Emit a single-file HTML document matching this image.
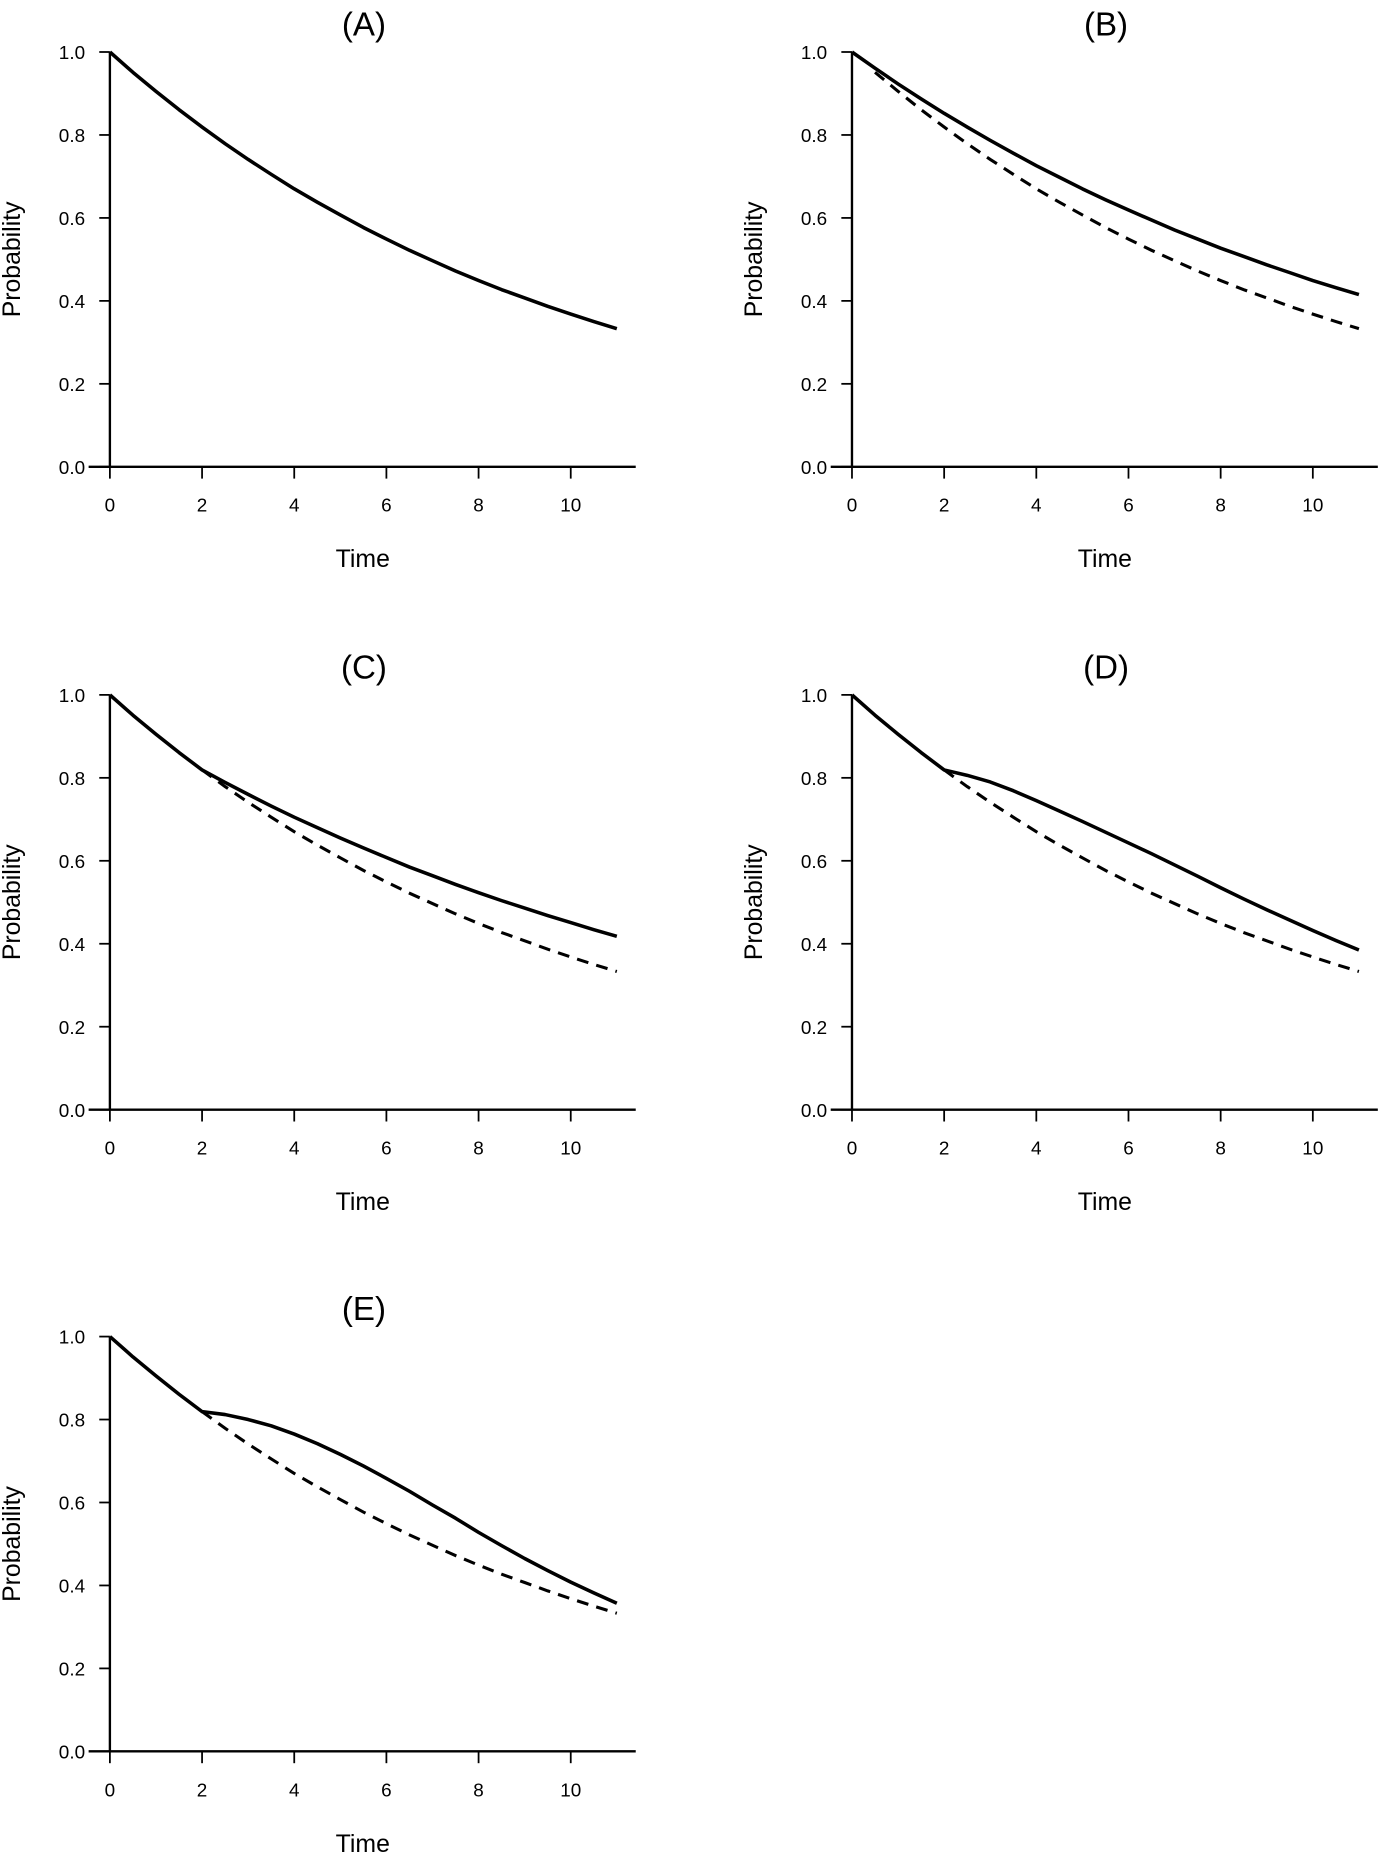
<!DOCTYPE html>
<html><head><meta charset="utf-8"><style>
html,body{margin:0;padding:0;background:#fff}
svg{display:block}
text{font-family:"Liberation Sans",Arial,sans-serif;fill:#000}
</style></head><body>
<svg id="fig" width="1379" height="1853" viewBox="0 0 1167 1568" preserveAspectRatio="none" xmlns="http://www.w3.org/2000/svg"></svg>
<script>
const times = [0,0.5,1,1.5,2,2.5,3,3.5,4,4.5,5,5.5,6,6.5,7,7.5,8,8.5,9,9.5,10,10.5,11];
const baseline = [1,.951,.905,.861,.819,.779,.741,.705,.670,.638,.607,.577,.549,.522,.497,.472,.449,.427,.407,.387,.368,.350,.333];
const seriesB = [1,.961,.923,.887,.852,.819,.787,.756,.726,.698,.670,.644,.619,.595,.571,.549,.527,.507,.487,.468,.449,.432,.415];
const seriesC = [1,.951,.905,.861,.819,.789,.760,.732,.705,.680,.655,.631,.608,.585,.564,.543,.523,.504,.486,.468,.451,.434,.418];
const seriesD = [1,.951,.905,.861,.819,.806,.790,.769,.745,.720,.695,.669,.643,.617,.590,.563,.535,.508,.482,.457,.432,.408,.385];
const seriesE = [1,.951,.905,.861,.819,.812,.800,.785,.765,.742,.716,.688,.658,.627,.594,.562,.528,.496,.465,.436,.408,.382,.357];
const xTicks = [0,2,4,6,8,10];
const yTicks = [0,0.2,0.4,0.6,0.8,1.0];
const panelTitles = ["(A)","(B)","(C)","(D)","(E)"];
const panelSolid = [baseline, seriesB, seriesC, seriesD, seriesE];
const dashStart = [null, 0.5, 2, 2, 2];

const NS="http://www.w3.org/2000/svg";
const svg=document.getElementById('fig');
function mk(tag,attrs,parent){const e=document.createElementNS(NS,tag);for(const k in attrs)e.setAttribute(k,attrs[k]);(parent||svg).appendChild(e);return e;}

const origins=[[0,0],[628,0],[0,544],[628,544],[0,1087]];
panelTitles.forEach((title,i)=>{
  const [ox,oy]=origins[i];
  const g=mk('g',{transform:`translate(${ox},${oy})`});
  
  
  const sx=t=>93+t*39;
  const sy=v=>395-v*351;
  const t1=mk('text',{x:308,y:30,'font-size':28,'text-anchor':'middle'},g);t1.textContent=title;
  
  
  const ya=mk('line',{x1:93,y1:sy(1),x2:93,y2:sy(0),stroke:'#000','stroke-width':2},g);
  
  
  const xa=mk('line',{x1:75,y1:sy(0),x2:538,y2:sy(0),stroke:'#000','stroke-width':2},g);
  
  
  yTicks.forEach(v=>{
    mk('line',{x1:84,y1:sy(v),x2:93,y2:sy(v),stroke:'#000','stroke-width':1.5},g);
    const t=mk('text',{x:72,y:sy(v)+6,'font-size':16,'text-anchor':'end'},g);t.textContent=v.toFixed(1);
    
    
  });
  xTicks.forEach(v=>{
    mk('line',{x1:sx(v),y1:sy(0),x2:sx(v),y2:sy(0)+10,stroke:'#000','stroke-width':1.5},g);
    const t=mk('text',{x:sx(v),y:433,'font-size':16,'text-anchor':'middle'},g);t.textContent=v;
    
    
  });
  const xl=mk('text',{x:307,y:480,'font-size':21,'text-anchor':'middle'},g);xl.textContent='Time';
  
  
  const yl=mk('text',{x:0,y:0,'font-size':21,'text-anchor':'middle',transform:`translate(17,${sy(0.5)}) rotate(-90)`},g);yl.textContent='Probability';
  
  
  function path(vals,from){
    let d='';times.forEach((t,k)=>{if(t<from)return;d+=(d?'L':'M')+sx(t).toFixed(1)+','+sy(vals[k]).toFixed(1);});return d;
  }
  if(dashStart[i]!==null){
    const dl=mk('path',{d:path(baseline,dashStart[i]),fill:'none',stroke:'#000','stroke-width':2.6,'stroke-dasharray':'10,7'},g);
    
    
  }
  const sl=mk('path',{d:path(panelSolid[i],0),fill:'none',stroke:'#000','stroke-width':3,'stroke-linejoin':'round'},g);
  
  
});
</script>
</body></html>
